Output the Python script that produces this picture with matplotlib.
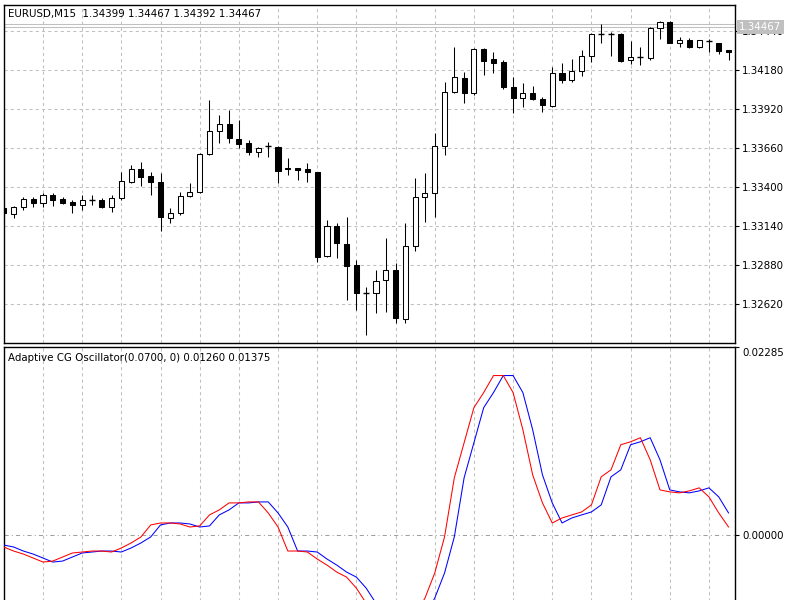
import numpy as np
import matplotlib
matplotlib.use("Agg")
import matplotlib.pyplot as plt
import matplotlib.transforms as mtransforms

# ---------------------------------------------------------------
# data (EURUSD M15)
# ---------------------------------------------------------------
opens = [1.33260, 1.33220, 1.33267, 1.33320, 1.33293, 1.33347, 1.33320, 1.33300, 1.33280, 1.33313,
         1.33313, 1.33267, 1.33327, 1.33433, 1.33520, 1.33473, 1.33433, 1.33193, 1.33227, 1.33340,
         1.33367, 1.33620, 1.33773, 1.33820, 1.33720, 1.33693, 1.33633, 1.33673, 1.33667, 1.33527,
         1.33527, 1.33520, 1.33500, 1.32940, 1.33140, 1.33020, 1.32880, 1.32693, 1.32693, 1.32780,
         1.32847, 1.32520, 1.33007, 1.33333, 1.33360, 1.33673, 1.34033, 1.34127, 1.34027, 1.34320,
         1.34253, 1.34233, 1.34067, 1.33993, 1.34027, 1.33987, 1.33940, 1.34160, 1.34113, 1.34173,
         1.34273, 1.34420, 1.34420, 1.34420, 1.34247, 1.34267, 1.34260, 1.34460, 1.34500, 1.34360,
         1.34380, 1.34333, 1.34373, 1.34360, 1.34313]
highs = [1.33273, 1.33273, 1.33333, 1.33333, 1.33360, 1.33360, 1.33333, 1.33313, 1.33347, 1.33347,
         1.33327, 1.33347, 1.33500, 1.33547, 1.33567, 1.33500, 1.33493, 1.33260, 1.33367, 1.33427,
         1.33627, 1.33980, 1.33880, 1.33913, 1.33847, 1.33713, 1.33667, 1.33700, 1.33673, 1.33593,
         1.33527, 1.33560, 1.33500, 1.33180, 1.33160, 1.33200, 1.32913, 1.32733, 1.32847, 1.33060,
         1.32893, 1.33160, 1.33460, 1.33493, 1.33760, 1.34100, 1.34333, 1.34167, 1.34327, 1.34327,
         1.34300, 1.34247, 1.34133, 1.34093, 1.34073, 1.34000, 1.34200, 1.34227, 1.34253, 1.34313,
         1.34427, 1.34487, 1.34433, 1.34427, 1.34373, 1.34333, 1.34467, 1.34507, 1.34507, 1.34400,
         1.34393, 1.34380, 1.34387, 1.34363, 1.34313]
lows = [1.33213, 1.33193, 1.33247, 1.33267, 1.33267, 1.33273, 1.33287, 1.33227, 1.33247, 1.33280,
        1.33260, 1.33233, 1.33313, 1.33427, 1.33407, 1.33347, 1.33107, 1.33160, 1.33213, 1.33333,
        1.33360, 1.33613, 1.33693, 1.33693, 1.33660, 1.33613, 1.33600, 1.33600, 1.33427, 1.33480,
        1.33447, 1.33433, 1.32900, 1.32933, 1.32927, 1.32647, 1.32580, 1.32413, 1.32560, 1.32567,
        1.32493, 1.32493, 1.32973, 1.33167, 1.33200, 1.33613, 1.34027, 1.33960, 1.34013, 1.34147,
        1.34160, 1.34053, 1.33893, 1.33933, 1.33980, 1.33900, 1.33933, 1.34093, 1.34100, 1.34140,
        1.34233, 1.34360, 1.34273, 1.34233, 1.34220, 1.34213, 1.34247, 1.34387, 1.34357, 1.34333,
        1.34330, 1.34330, 1.34300, 1.34287, 1.34247]
closes = [1.33227, 1.33267, 1.33320, 1.33293, 1.33347, 1.33313, 1.33293, 1.33280, 1.33313, 1.33310,
          1.33267, 1.33327, 1.33440, 1.33520, 1.33467, 1.33433, 1.33200, 1.33227, 1.33340, 1.33367,
          1.33620, 1.33773, 1.33820, 1.33727, 1.33687, 1.33633, 1.33660, 1.33670, 1.33507, 1.33520,
          1.33513, 1.33500, 1.32933, 1.33140, 1.33027, 1.32873, 1.32693, 1.32690, 1.32773, 1.32847,
          1.32527, 1.33007, 1.33333, 1.33360, 1.33673, 1.34033, 1.34133, 1.34027, 1.34320, 1.34240,
          1.34227, 1.34067, 1.33993, 1.34027, 1.33987, 1.33947, 1.34160, 1.34113, 1.34173, 1.34273,
          1.34420, 1.34417, 1.34417, 1.34240, 1.34267, 1.34264, 1.34460, 1.34500, 1.34360, 1.34380,
          1.34333, 1.34380, 1.34370, 1.34307, 1.34300]

# Adaptive CG Oscillator: cycle (red) and trigger (blue)
cg_cycle = [-0.00146, -0.00195, -0.00232, -0.00280, -0.00329, -0.00317, -0.00268, -0.00219, -0.00207, -0.00195,
            -0.00195, -0.00207, -0.00158, -0.00097, -0.00024, 0.00122, 0.00146, 0.00146, 0.00134, 0.00097,
            0.00110, 0.00244, 0.00305, 0.00390, 0.00390, 0.00402, 0.00402, 0.00268, 0.00097, -0.00195,
            -0.00195, -0.00207, -0.00292, -0.00366, -0.00451, -0.00512, -0.00646, -0.00829, -0.01012, -0.01133,
            -0.01182, -0.01133, -0.00975, -0.00768, -0.00463, -0.00024, 0.00695, 0.01121, 0.01548, 0.01731,
            0.01938, 0.01938, 0.01731, 0.01280, 0.00731, 0.00390, 0.00146, 0.00207, 0.00244, 0.00280,
            0.00366, 0.00707, 0.00792, 0.01097, 0.01133, 0.01182, 0.00914, 0.00548, 0.00524, 0.00512,
            0.00536, 0.00573, 0.00463, 0.00268, 0.00097]
cg_trigger = [-0.00122, -0.00146, -0.00195, -0.00232, -0.00280, -0.00329, -0.00317, -0.00268, -0.00219, -0.00207,
              -0.00195, -0.00195, -0.00207, -0.00158, -0.00097, -0.00024, 0.00122, 0.00146, 0.00146, 0.00134,
              0.00097, 0.00110, 0.00244, 0.00305, 0.00390, 0.00390, 0.00402, 0.00402, 0.00268, 0.00097,
              -0.00195, -0.00195, -0.00207, -0.00292, -0.00366, -0.00451, -0.00512, -0.00646, -0.00829, -0.01012,
              -0.01133, -0.01182, -0.01133, -0.00975, -0.00768, -0.00463, -0.00024, 0.00695, 0.01121, 0.01548,
              0.01731, 0.01938, 0.01938, 0.01731, 0.01280, 0.00731, 0.00390, 0.00146, 0.00207, 0.00244,
              0.00280, 0.00366, 0.00707, 0.00792, 0.01097, 0.01133, 0.01182, 0.00914, 0.00548, 0.00524,
              0.00512, 0.00536, 0.00573, 0.00463, 0.00268]

price_ticks = [1.32620, 1.32880, 1.33140, 1.33400, 1.33660, 1.33920, 1.34180, 1.34440]
bid_price = 1.34467
ask_price = 1.34487
osc_max = 0.02285
title_main = "EURUSD,M15  1.34399 1.34467 1.34392 1.34467"
title_osc = "Adaptive CG Oscillator(0.0700, 0) 0.01260 0.01375"

# ---------------------------------------------------------------
# layout helpers (pixel boxes on an 800x600 canvas)
# ---------------------------------------------------------------
W, H = 800, 600
def px_box(left, top, right, bottom):
    return [left / W, 1 - bottom / H, (right - left) / W, (bottom - top) / H]

FS = 7.4
GRID = "#c0c0c0"
LW = 0.75

fig = plt.figure(figsize=(8, 6), dpi=100, facecolor="white")
ax1 = fig.add_axes(px_box(4, 5, 735, 342.5))
ax2 = fig.add_axes(px_box(4, 347, 735, 650))

n = len(opens)
x = np.arange(n)
o = np.array(opens); h = np.array(highs); l = np.array(lows); c = np.array(closes)

for ax in (ax1, ax2):
    ax.set_facecolor("white")
    ax.set_xlim(0.02, 74.66)
    ax.set_xticks(np.arange(4, n, 4))
    ax.tick_params(axis="x", length=0, labelbottom=False)
    ax.xaxis.grid(True, color=GRID, lw=LW, linestyle=(0, (3, 3)))
    ax.set_axisbelow(True)
    for s in ax.spines.values():
        s.set_color("black")
        s.set_linewidth(1.0)
    ax.yaxis.tick_right()
    ax.tick_params(axis="y", direction="out", length=3, width=0.8, pad=2,
                   labelsize=FS, colors="black")

# ---------------------------------------------------------------
# price panel
# ---------------------------------------------------------------
ax1.set_ylim(1.323634, 1.346134)
ax1.set_yticks(price_ticks)
ax1.set_yticklabels([f"{p:.5f}" for p in price_ticks])
ax1.yaxis.grid(True, color=GRID, lw=LW, linestyle=(0, (3, 3)))

ax1.axhline(ask_price, color=GRID, lw=LW, zorder=1)
ax1.axhline(bid_price, color=GRID, lw=LW, zorder=1)

ax1.vlines(x, l, h, color="black", lw=LW, zorder=2)
body_w = 0.52
span = np.abs(c - o)
is_body = span > 0.00004
bottoms = np.minimum(o, c)
colors = ["white" if cc >= oo else "black" for oo, cc in zip(o, c)]
ax1.bar(x[is_body], span[is_body], bottom=bottoms[is_body], width=body_w,
        color=[colors[i] for i in np.where(is_body)[0]], edgecolor="black",
        lw=LW, zorder=3)
doji = ~is_body
ax1.hlines(o[doji], x[doji] - body_w / 2 - 0.05, x[doji] + body_w / 2 + 0.05,
           color="black", lw=1.0, zorder=3)

blend1 = mtransforms.blended_transform_factory(ax1.transAxes, ax1.transData)
ax1.text(1.006, bid_price, "1.34467", transform=blend1, va="center", ha="left",
         fontsize=FS, color="white", zorder=10, clip_on=False,
         bbox=dict(facecolor="#c0c0c0", edgecolor="none", pad=1.6))
ax1.text(0.006, 0.973, title_main, transform=ax1.transAxes, fontsize=FS,
         ha="left", va="center", color="black")

# ---------------------------------------------------------------
# oscillator panel
# ---------------------------------------------------------------
ax2.set_ylim(-0.01398, osc_max)
ax2.set_yticks([0.0, osc_max])
ax2.set_yticklabels(["0.00000", ""])
ax2.axhline(0.0, color="#a0a0a0", lw=LW, linestyle=(0, (4, 3, 1, 3)), zorder=1)

ax2.plot(x, cg_trigger, color="#0000ff", lw=LW, zorder=3)
ax2.plot(x, cg_cycle, color="#ff0000", lw=LW, zorder=4)

blend2 = mtransforms.blended_transform_factory(ax2.transAxes, ax2.transData)
ax2.text(1.0095, osc_max - 0.00015, "0.02285", transform=blend2, va="top", ha="left",
         fontsize=FS, color="black", clip_on=False)
ax2.text(0.006, 0.965, title_osc, transform=ax2.transAxes, fontsize=FS,
         ha="left", va="center", color="black")

fig.savefig("out.png", dpi=100, facecolor="white")
